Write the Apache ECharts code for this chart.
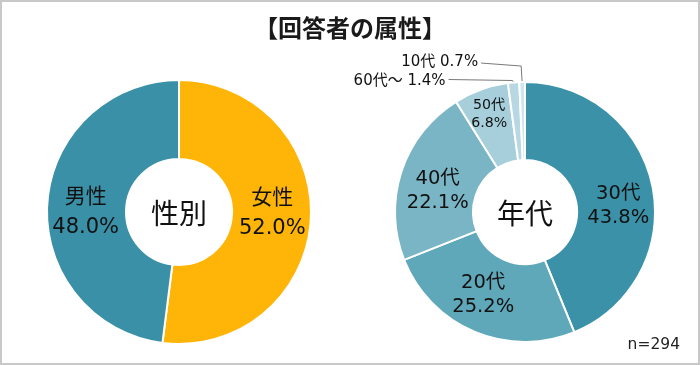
<!DOCTYPE html>
<html>
<head>
<meta charset="utf-8">
<script src="https://cdn.jsdelivr.net/npm/echarts@6/dist/echarts.min.js"></script>
<style>
html,body{margin:0;padding:0;background:#fff;}
#wrap{position:relative;width:700px;height:365px;}
#chart{position:absolute;left:0;top:0;width:700px;height:365px;}
#frame{position:absolute;left:0;top:0;width:700px;height:365px;box-sizing:border-box;border:2px solid #c8c8c8;pointer-events:none;}
</style>
</head>
<body>
<div id="wrap"><div id="chart"></div><div id="frame"></div></div>
<script>
var titleText = '【回答者の属性】';
var sampleText = 'n=294';

var genderCenter = '性別';
var genderNames = ['女性', '男性'];
var genderValues = [52.0, 48.0];
var genderColors = ['#ffb508', '#3a90a7'];

var ageCenter = '年代';
var ageNames = ['30代', '20代', '40代', '50代', '60代～', '10代'];
var ageValues = [43.8, 25.2, 22.1, 6.8, 1.4, 0.7];
var ageColors = ['#3a91a8', '#5fa8ba', '#7ab5c5', '#a6cfdb', '#b7d8e2', '#d0e6ed'];

var FONT = '"Noto Sans CJK JP", "Noto Sans", sans-serif';
var LFONT = '"DejaVu Sans", "Noto Sans CJK JP", sans-serif';

function fmt(v){ return v.toFixed(1) + '%'; }

// label styling per slice (kept apart from the data arrays)
var genderLabelStyle = [ { offset: [-2, -4] }, { offset: [2, 7] } ];
var ageLabelStyle = [
  { offset: [1, 12] },
  { offset: [-5, -4] },
  { offset: [2, 8] },
  { offset: [-4, -9], fontSize: 14.2, lineHeight: 18 },
  { outside: true, rise: 2, run: 64, tilt: 1, dy: 3 },
  { outside: true, rise: 16, run: 40, tilt: 3, dy: 0 }
];

var genderData = genderNames.map(function(n, i){
  return { name: n, value: genderValues[i], itemStyle: { color: genderColors[i] },
           label: { offset: genderLabelStyle[i].offset } };
});

var ageData = ageNames.map(function(n, i){
  var s = ageLabelStyle[i];
  var d = { name: n, value: ageValues[i], itemStyle: { color: ageColors[i] } };
  if (s.outside) {
    d.label = { position: 'outside', fontSize: 15, formatter: function(p){ return p.name + ' ' + fmt(p.value); } };
    d.labelLine = { show: true, length: 10, length2: 10, lineStyle: { color: '#7a7a7a', width: 1 } };
  } else {
    d.label = { position: 'inside' };
    if (s.offset) d.label.offset = s.offset;
    if (s.fontSize) { d.label.fontSize = s.fontSize; d.label.lineHeight = s.lineHeight; }
  }
  return d;
});

var chart = echarts.init(document.getElementById('chart'), null, { renderer: 'canvas' });
chart.setOption({
  backgroundColor: '#fff',
  animation: false,
  title: {
    text: titleText,
    left: 'center',
    top: 11,
    textStyle: { fontFamily: FONT, fontSize: 24, fontWeight: 'bold', color: '#1a1a1a' }
  },
  graphic: [
    { type: 'text', x: 179, y: 213, style: { text: genderCenter, fontFamily: FONT, fontSize: 28, fill: '#111', align: 'center', verticalAlign: 'middle' } },
    { type: 'text', x: 525, y: 213, style: { text: ageCenter, fontFamily: FONT, fontSize: 28, fill: '#111', align: 'center', verticalAlign: 'middle' } },
    { type: 'text', x: 680, y: 345, style: { text: sampleText, fontFamily: LFONT, fontSize: 15.5, fill: '#222', align: 'right', verticalAlign: 'middle' } }
  ],
  series: [
    {
      type: 'pie',
      center: [179, 212],
      radius: [53, 132],
      startAngle: 90,
      clockwise: true,
      avoidLabelOverlap: false,
      itemStyle: { borderColor: '#fff', borderWidth: 2 },
      label: {
        show: true, position: 'inside', fontFamily: LFONT, fontSize: 21, lineHeight: 30, color: '#111',
        formatter: function(p){ return p.name + '\n' + fmt(p.value); }
      },
      labelLine: { show: false },
      emphasis: { disabled: true },
      data: genderData
    },
    {
      type: 'pie',
      center: [525, 212],
      radius: [52, 130],
      startAngle: 90,
      clockwise: true,
      avoidLabelOverlap: false,
      minShowLabelAngle: 0,
      itemStyle: { borderColor: '#fff', borderWidth: 2 },
      label: {
        show: true, position: 'inside', fontFamily: LFONT, fontSize: 19.5, lineHeight: 24, color: '#111',
        formatter: function(p){ return p.name + '\n' + fmt(p.value); }
      },
      labelLine: { show: false },
      labelLayout: function(params){
        var s = ageLabelStyle[params.dataIndex];
        if (!s || !s.outside || !params.labelLinePoints) return {};
        var a = params.labelLinePoints[0];
        var bx = a[0] - 1, by = a[1] - s.rise;
        var ex = bx - s.run, ey = by - s.tilt;
        return {
          x: ex - 3, y: ey - 1 + s.dy, align: 'right', verticalAlign: 'middle',
          labelLinePoints: [[a[0], a[1]], [bx, by], [ex, ey]]
        };
      },
      emphasis: { disabled: true },
      data: ageData
    }
  ]
});
</script>
</body>
</html>
